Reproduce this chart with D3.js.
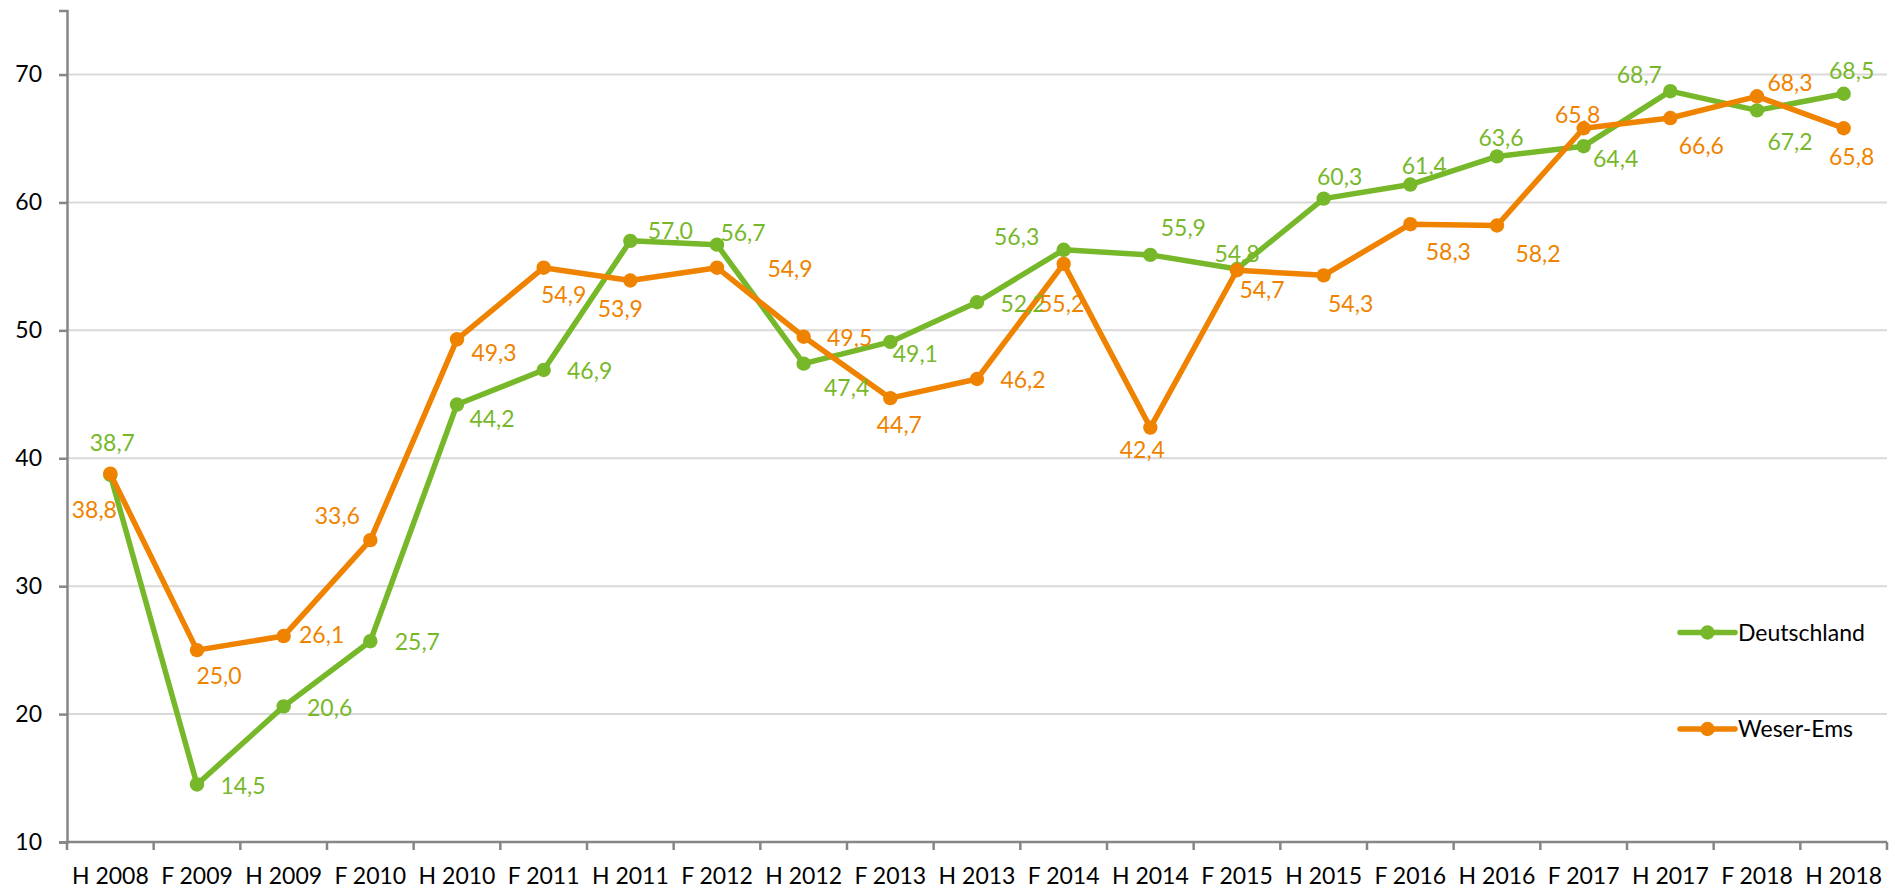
<!DOCTYPE html>
<html>
<head>
<meta charset="utf-8">
<script src="https://cdn.jsdelivr.net/npm/d3@7"></script>
<style>
  html, body { margin: 0; padding: 0; background: #fff; }
  svg { display: block; font-family: Lato, "Open Sans", sans-serif; }
</style>
</head>
<body>
<div id="chart"></div>
<script>
const categories = ['H 2008', 'F 2009', 'H 2009', 'F 2010', 'H 2010', 'F 2011', 'H 2011',
  'F 2012', 'H 2012', 'F 2013', 'H 2013', 'F 2014', 'H 2014', 'F 2015', 'H 2015',
  'F 2016', 'H 2016', 'F 2017', 'H 2017', 'F 2018', 'H 2018']

const deutschland = [38.7, 14.5, 20.6, 25.7, 44.2, 46.9, 57.0, 56.7, 47.4, 49.1, 52.2,
  56.3, 55.9, 54.8, 60.3, 61.4, 63.6, 64.4, 68.7, 67.2, 68.5]

const weserEms = [38.8, 25.0, 26.1, 33.6, 49.3, 54.9, 53.9, 54.9, 49.5, 44.7, 46.2,
  55.2, 42.4, 54.7, 54.3, 58.3, 58.2, 65.8, 66.6, 68.3, 65.8]

const yTicks = [10, 20, 30, 40, 50, 60, 70]

// where each data label sits, relative to its point (as placed in the original)
const deLabelPos = [[2, -32], [46, 1], [46, 1], [47, 1], [35, 14], [46, 1], [40, -10],
  [26, -12], [43, 24], [25, 12], [46, 1], [-47, -13], [33, -27], [0, -15], [16, -22],
  [14, -19], [4, -19], [32, 13], [-31, -16], [33, 31], [8, -23]]
const weLabelPos = [[-16, 36], [22, 26], [38, -1], [-33, -24], [37, 13], [20, 27],
  [-10, 28], [73, 1], [46, 1], [9, 27], [46, 1], [-2, 40], [-8, 22], [25, 19], [27, 28],
  [38, 28], [41, 28], [-6, -14], [31, 28], [33, -14], [8, 28]]

const series = [
  { name: 'Deutschland', values: deutschland, labels: deLabelPos, color: '#77b82a' },
  { name: 'Weser-Ems', values: weserEms, labels: weLabelPos, color: '#ef8300' }
]

const fmt = v => d3.format('.1f')(v).replace('.', ',')

const width = 1895
const height = 890
const left = 67
const right = 1887
const bottom = 842

const x = d3.scaleBand()
  .domain(categories)
  .range([left, right])
  .padding(0)

const y = d3.scaleLinear()
  .domain([10, 75])
  .range([bottom, 10.6])

const cx = d => x(d) + x.bandwidth() / 2

const svg = d3.select('#chart')
  .append('svg')
  .attr('width', width)
  .attr('height', height)

// gridlines
svg.append('g')
  .selectAll('line')
  .data(yTicks.filter(t => t > 10))
  .enter()
  .append('line')
    .attr('x1', left)
    .attr('x2', right)
    .attr('y1', d => y(d))
    .attr('y2', d => y(d))
    .attr('stroke', '#d9d9d9')
    .attr('stroke-width', 2)

// y axis
const yAxis = svg.append('g')
  .attr('transform', `translate(${left},0)`)
  .call(d3.axisLeft(y).tickValues(yTicks).tickSize(8).tickPadding(17))
yAxis.select('.domain').attr('stroke', '#868686').attr('stroke-width', 2.5)
yAxis.selectAll('.tick line').attr('stroke', '#868686').attr('stroke-width', 2.5)
yAxis.selectAll('.tick text')
  .attr('font-size', '23px')
  .attr('fill', '#000')
  .attr('font-family', 'Lato, sans-serif')

// x axis labels
const xAxis = svg.append('g')
  .attr('transform', `translate(0,${bottom})`)
  .call(d3.axisBottom(x).tickSize(0).tickPadding(26))
xAxis.select('.domain').remove()
xAxis.selectAll('.tick text')
  .attr('font-size', '23px')
  .attr('fill', '#000')
  .attr('font-family', 'Lato, sans-serif')

svg.append('line')
  .attr('x1', left)
  .attr('x2', right)
  .attr('y1', bottom)
  .attr('y2', bottom)
  .attr('stroke', '#868686')
  .attr('stroke-width', 2.5)

// tick marks sit between categories
svg.append('g')
  .selectAll('line')
  .data(categories.map(c => x(c)).concat(right))
  .enter()
  .append('line')
    .attr('x1', d => d)
    .attr('x2', d => d)
    .attr('y1', bottom)
    .attr('y2', bottom + 8)
    .attr('stroke', '#868686')
    .attr('stroke-width', 2.5)

const line = d3.line()
  .x((d, i) => cx(categories[i]))
  .y(d => y(d))

series.forEach(s => {
  const g = svg.append('g')
  g.append('path')
    .datum(s.values)
    .attr('d', line)
    .attr('fill', 'none')
    .attr('stroke', s.color)
    .attr('stroke-width', 5.5)
    .attr('stroke-linejoin', 'round')
  g.selectAll('circle')
    .data(s.values)
    .enter()
    .append('circle')
      .attr('cx', (d, i) => cx(categories[i]))
      .attr('cy', d => y(d))
      .attr('r', 7.2)
      .attr('fill', s.color)
})

// data labels
series.forEach(s => {
  svg.append('g')
    .selectAll('text')
    .data(s.values)
    .enter()
    .append('text')
      .attr('x', (d, i) => cx(categories[i]) + s.labels[i][0])
      .attr('y', (d, i) => y(d) + s.labels[i][1])
      .attr('dy', '0.36em')
      .attr('text-anchor', 'middle')
      .attr('font-size', '23px')
      .attr('fill', s.color)
      .text(fmt)
})

// legend
const legend = svg.append('g')
  .selectAll('g')
  .data(series)
  .enter()
  .append('g')
    .attr('transform', (d, i) => `translate(1680,${632.5 + i * 96.5})`)

legend.append('line')
  .attr('x1', 0)
  .attr('x2', 55)
  .attr('stroke', d => d.color)
  .attr('stroke-width', 5.5)
  .attr('stroke-linecap', 'round')

legend.append('circle')
  .attr('cx', 27.5)
  .attr('r', 7.2)
  .attr('fill', d => d.color)

legend.append('text')
  .attr('x', 58)
  .attr('dy', '0.36em')
  .attr('font-size', '23px')
  .attr('fill', '#000')
  .text(d => d.name)
</script>
</body>
</html>
